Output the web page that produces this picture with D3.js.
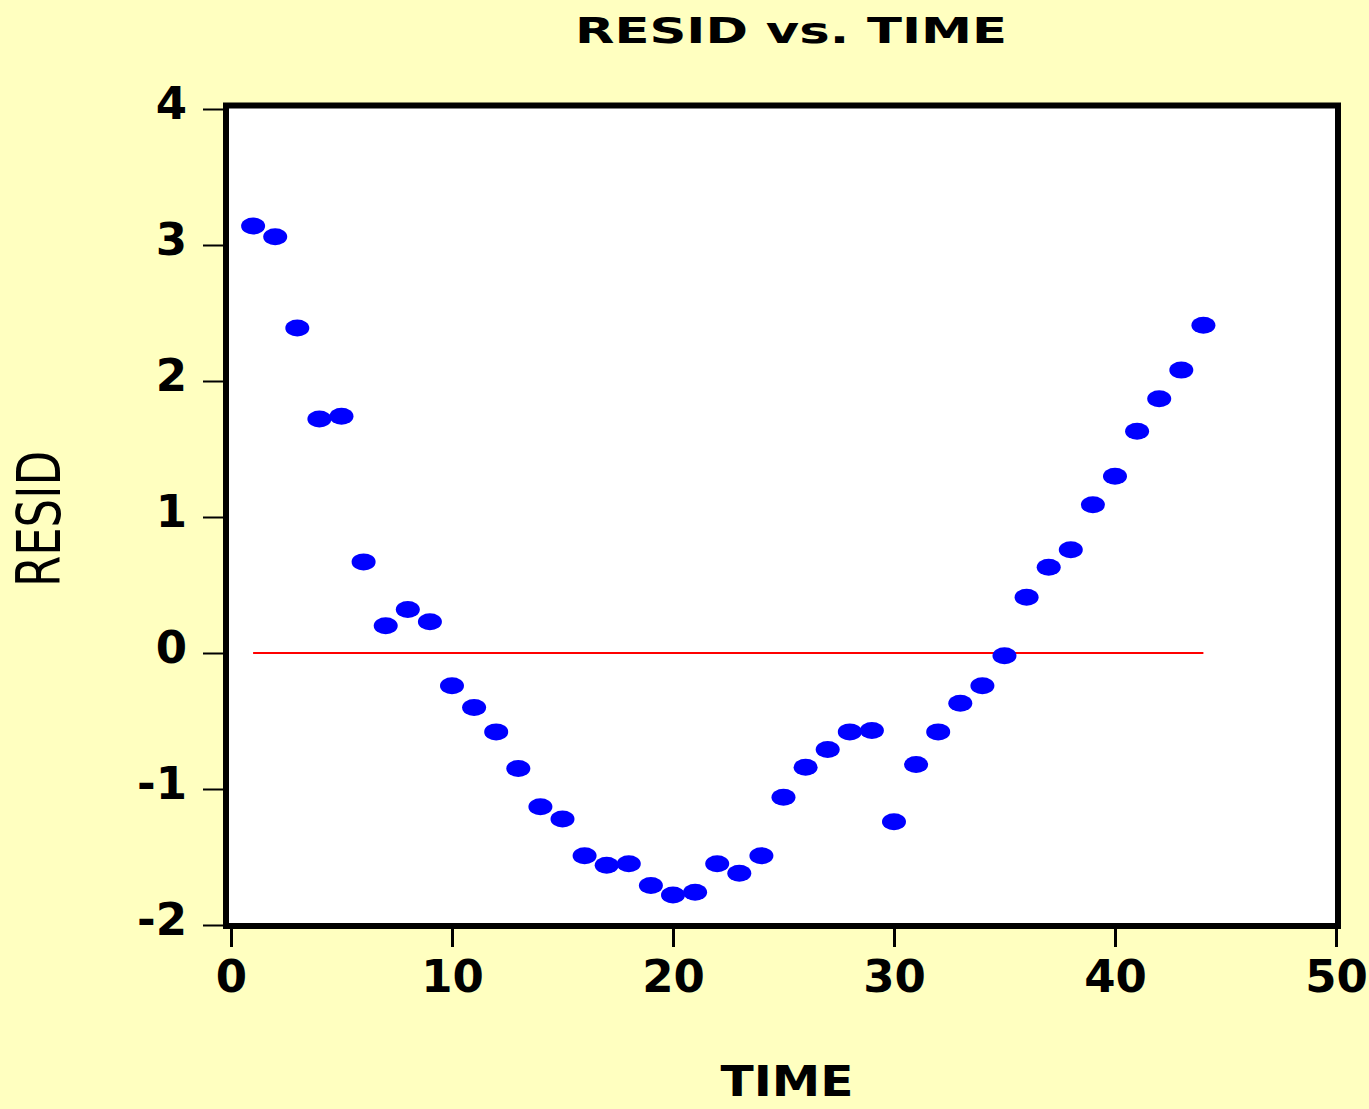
<!DOCTYPE html>
<html>
<head>
<meta charset="utf-8">
<script src="https://cdn.jsdelivr.net/npm/d3@7"></script>
<style>
  html, body { margin: 0; padding: 0; background: #ffffc0; }
  svg { display: block; }
</style>
</head>
<body>
<div id="chart"></div>
<script>
// residuals, one per time step
const time = d3.range(1, 45);
const resid = [
  3.14, 3.06, 2.39, 1.72, 1.74, 0.67, 0.20, 0.32, 0.23, -0.24,
  -0.40, -0.58, -0.85, -1.13, -1.22, -1.49, -1.56, -1.55, -1.71, -1.78,
  -1.76, -1.55, -1.62, -1.49, -1.06, -0.84, -0.71, -0.58, -0.57, -1.24,
  -0.82, -0.58, -0.37, -0.24, -0.02, 0.41, 0.63, 0.76, 1.09, 1.30,
  1.63, 1.87, 2.08, 2.41
];
const xTicks = [0, 10, 20, 30, 40, 50];
const yTicks = [4, 3, 2, 1, 0, -1, -2];
const zeroLine = [1, 44];

const width = 1369, height = 1109;

const svg = d3.select("#chart").append("svg")
  .attr("width", width)
  .attr("height", height);

// background
svg.append("rect")
  .attr("width", width).attr("height", height)
  .attr("fill", "#ffffc0");

const x = d3.scaleLinear().domain([0, 50]).range([231, 1336]);
const y = d3.scaleLinear().domain([-2, 4]).range([925, 109]);

// plot frame
svg.append("rect")
  .attr("x", 226).attr("y", 105.5)
  .attr("width", 1112).attr("height", 820.5)
  .attr("fill", "#fff")
  .attr("stroke", "#000")
  .attr("stroke-width", 6);

// axes
const yAxis = svg.append("g")
  .attr("transform", "translate(226,0)")
  .call(d3.axisLeft(y).tickValues(yTicks).tickFormat(d => String(d))
    .tickSize(23).tickPadding(16));
yAxis.select(".domain").remove();
yAxis.selectAll("line").attr("stroke-width", 2);
yAxis.selectAll("text")
  .attr("dy", "0.22em")
  .style("font-family", "DejaVu Sans")
  .style("font-weight", "bold")
  .style("font-size", "45px")
  .attr("fill", "#000");

const xAxis = svg.append("g")
  .attr("transform", "translate(0,926)")
  .call(d3.axisBottom(x).tickValues(xTicks).tickFormat(d => String(d))
    .tickSize(21).tickPadding(13));
xAxis.select(".domain").remove();
xAxis.selectAll("line").attr("stroke-width", 3);
xAxis.selectAll("text")
  .style("font-family", "DejaVu Sans")
  .style("font-weight", "bold")
  .style("font-size", "45px")
  .attr("fill", "#000");

// zero reference line
svg.append("line")
  .attr("x1", x(zeroLine[0])).attr("x2", x(zeroLine[1]))
  .attr("y1", y(0)).attr("y2", y(0))
  .attr("stroke", "#ff0000")
  .attr("stroke-width", 2);

// points
svg.append("g")
  .selectAll("ellipse")
  .data(time.map((t, i) => ({ t: t, r: resid[i] })))
  .join("ellipse")
  .attr("cx", d => x(d.t))
  .attr("cy", d => y(d.r))
  .attr("rx", 12)
  .attr("ry", 8.5)
  .attr("fill", "#0000ff");

// title
svg.append("text")
  .attr("x", 791).attr("y", 43)
  .attr("text-anchor", "middle")
  .attr("textLength", 432)
  .attr("lengthAdjust", "spacingAndGlyphs")
  .style("font-family", "DejaVu Sans")
  .style("font-weight", "bold")
  .style("font-size", "35px")
  .text("RESID vs. TIME");

// axis titles
svg.append("text")
  .attr("transform", "translate(60,519) rotate(-90)")
  .attr("text-anchor", "middle")
  .attr("textLength", 136)
  .attr("lengthAdjust", "spacingAndGlyphs")
  .style("font-family", "DejaVu Sans")
  .style("font-size", "60px")
  .text("RESID");

// kept just inside the bottom edge
svg.append("text")
  .attr("x", 787).attr("y", 1096)
  .attr("text-anchor", "middle")
  .attr("textLength", 133)
  .attr("lengthAdjust", "spacingAndGlyphs")
  .style("font-family", "DejaVu Sans")
  .style("font-weight", "bold")
  .style("font-size", "42px")
  .text("TIME");
</script>
</body>
</html>
